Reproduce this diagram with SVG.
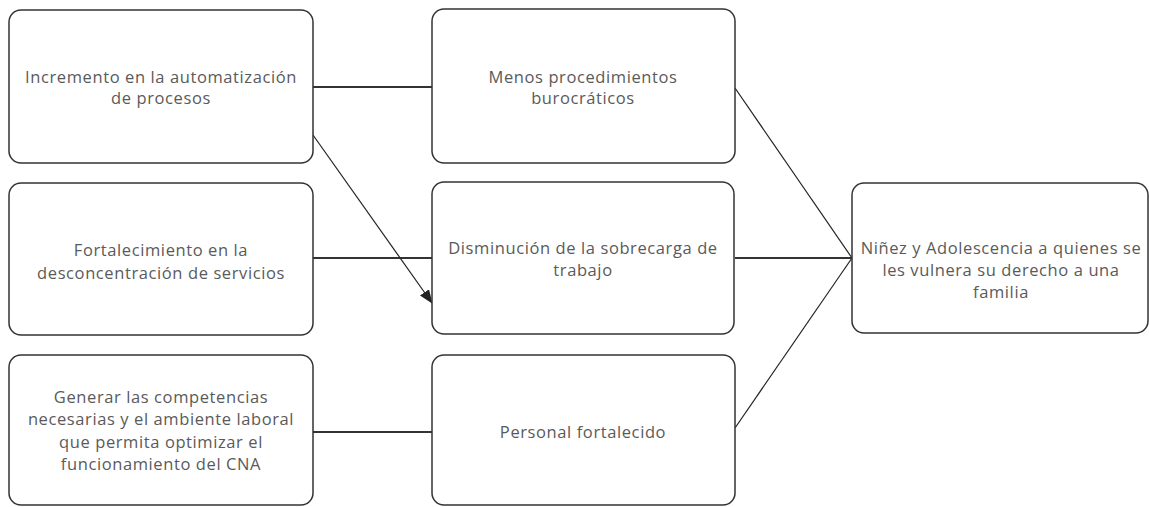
<svg xmlns="http://www.w3.org/2000/svg" width="1149" height="507" viewBox="0 0 1149 507">
<style>
.box{fill:#fff;stroke:#333;stroke-width:1.5}
.t{font-family:"Open Sans","Liberation Sans",sans-serif;font-size:16.5px;letter-spacing:0.6px;fill:#5a5a5a;text-anchor:middle}
.h{stroke:#333;stroke-width:2;fill:none}
.d{stroke:#222;stroke-width:1.2;fill:none}
</style>
<defs>
<marker id="arr" markerWidth="14" markerHeight="11" refX="13" refY="5.5" orient="auto" markerUnits="userSpaceOnUse">
<path d="M0,0 L14,5.5 L0,11 Z" fill="#222"/>
</marker>
</defs>
<rect width="1149" height="507" fill="#fff"/>
<g id="connectors">
<line class="h" x1="313" y1="87" x2="432" y2="87"/>
<line class="h" x1="313" y1="258" x2="432" y2="258"/>
<line class="h" x1="313" y1="432" x2="432" y2="432"/>
<line class="h" x1="735" y1="258" x2="852" y2="258"/>
<line class="d" x1="735" y1="88" x2="852" y2="258"/>
<line class="d" x1="735" y1="428" x2="852" y2="258"/>
<line class="d" x1="313" y1="135" x2="432" y2="303" marker-end="url(#arr)"/>
</g>
<g id="n1">
<rect class="box" x="9" y="10" width="304" height="153" rx="12"/>
<text class="t" x="161" y="83">Incremento en la automatización</text>
<text class="t" x="161" y="104">de procesos</text>
</g>
<g id="n2">
<rect class="box" x="432" y="9" width="303" height="154" rx="12"/>
<text class="t" x="583" y="83">Menos procedimientos</text>
<text class="t" x="583" y="104">burocráticos</text>
</g>
<g id="n3">
<rect class="box" x="9" y="183" width="304" height="152" rx="12"/>
<text class="t" x="161" y="256">Fortalecimiento en la</text>
<text class="t" x="161" y="279">desconcentración de servicios</text>
</g>
<g id="n4">
<rect class="box" x="432" y="182" width="302" height="152" rx="12"/>
<text class="t" x="583" y="254">Disminución de la sobrecarga de</text>
<text class="t" x="583" y="276">trabajo</text>
</g>
<g id="n5">
<rect class="box" x="852" y="183" width="296" height="150" rx="12"/>
<text class="t" x="1001" y="254">Niñez y Adolescencia a quienes se</text>
<text class="t" x="1001" y="276">les vulnera su derecho a una</text>
<text class="t" x="1001" y="298">familia</text>
</g>
<g id="n6">
<rect class="box" x="9" y="355" width="304" height="150" rx="12"/>
<text class="t" x="161" y="403">Generar las competencias</text>
<text class="t" x="161" y="425">necesarias y el ambiente laboral</text>
<text class="t" x="161" y="448">que permita optimizar el</text>
<text class="t" x="161" y="470">funcionamiento del CNA</text>
</g>
<g id="n7">
<rect class="box" x="432" y="355" width="303" height="150" rx="12"/>
<text class="t" x="583" y="438">Personal fortalecido</text>
</g>
</svg>
